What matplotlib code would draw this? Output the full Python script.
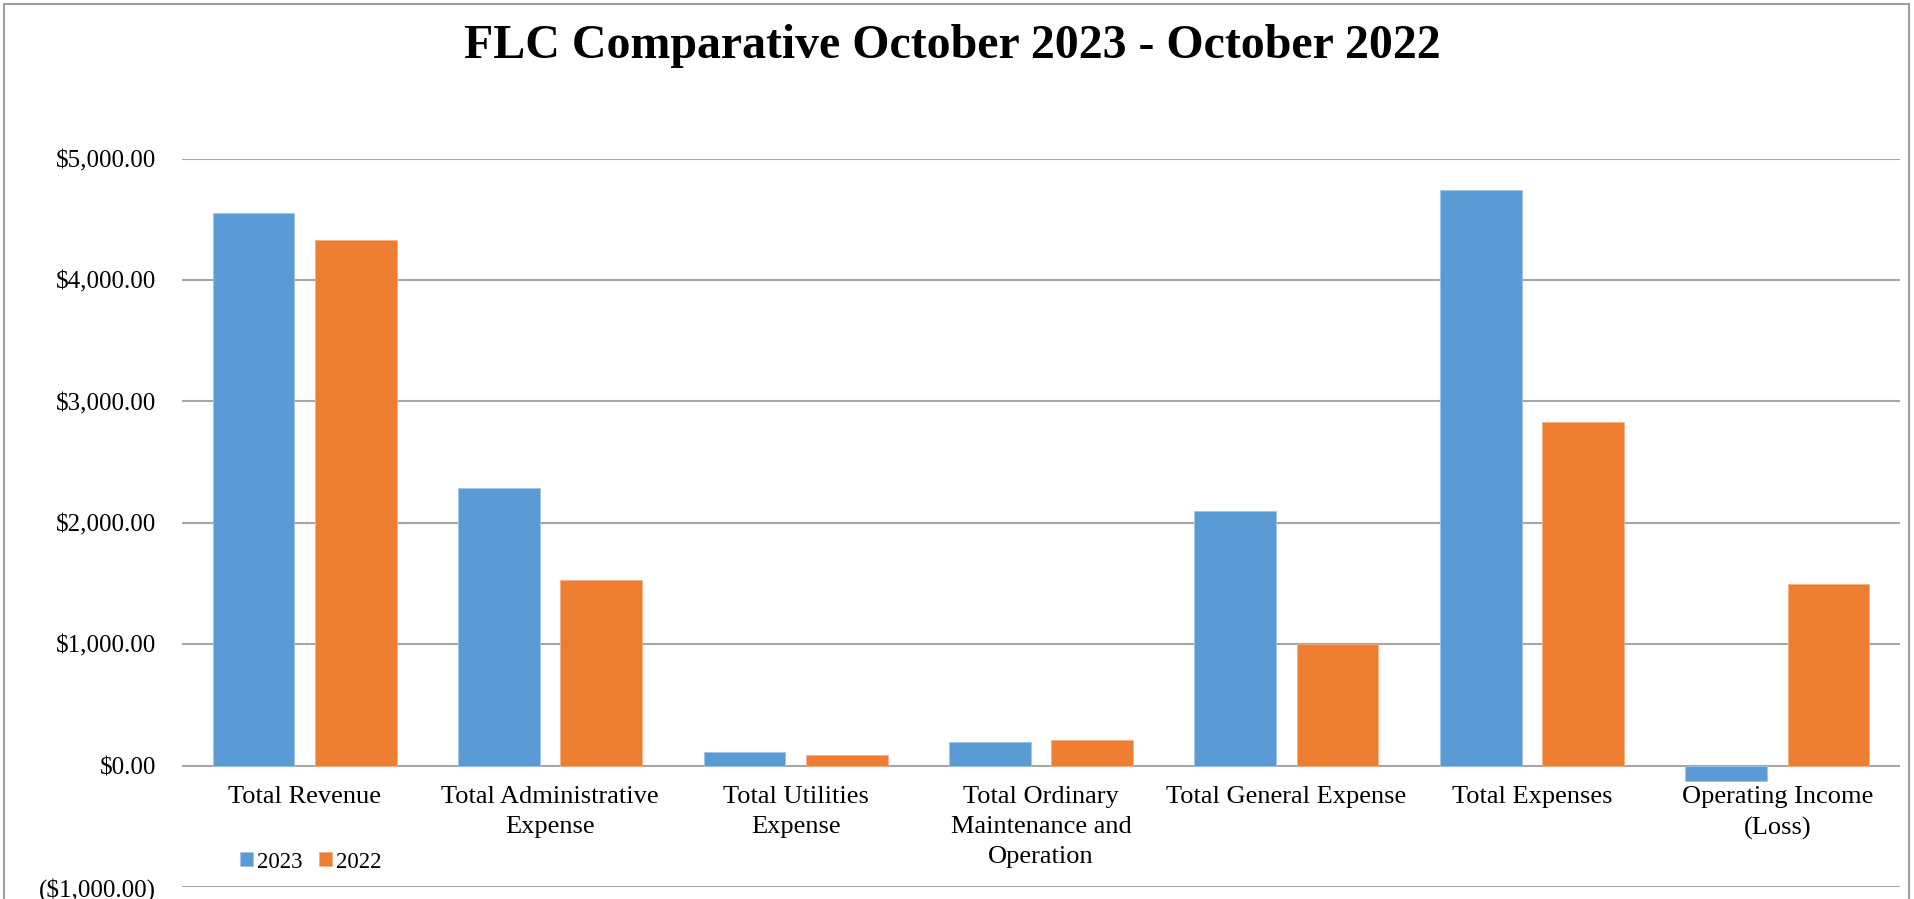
import matplotlib
matplotlib.use("Agg")
import matplotlib.pyplot as plt
import matplotlib.patches as mpatches
from matplotlib.ticker import FuncFormatter
import numpy as np

plt.rcParams['font.family'] = ['Liberation Serif', 'DejaVu Serif']

categories = [
    "Total Revenue",
    "Total Administrative\nExpense",
    "Total Utilities\nExpense",
    "Total Ordinary\nMaintenance and\nOperation",
    "Total General Expense",
    "Total Expenses",
    "Operating Income\n(Loss)",
]
values_2023 = [4553, 2289, 110, 192, 2094, 4742, -124]
values_2022 = [4328, 1528, 88, 208, 1000, 2830, 1495]
series_labels = ["2023", "2022"]
yticks = [-1000, 0, 1000, 2000, 3000, 4000, 5000]

BLUE = "#5B9BD5"
ORANGE = "#ED7D31"
GRID = "#A6A6A6"

W, H = 1914, 899
fig = plt.figure(figsize=(W / 100, H / 100), dpi=100)

# axes placed in pixel terms
left, right = 182, 1900
top, bottom = 158.7, 886.9
ax = fig.add_axes([left / W, (H - bottom) / H, (right - left) / W, (bottom - top) / H])

x = np.arange(len(categories))
bw = 0.333
off = 0.2085
ax.bar(x - off, values_2023, bw, color=BLUE, edgecolor="#9DC3E6", linewidth=0.6,
       label=series_labels[0], zorder=3)
ax.bar(x + off, values_2022, bw, color=ORANGE, edgecolor="#F4B183", linewidth=0.6,
       label=series_labels[1], zorder=3)

ax.set_xlim(-0.5, len(categories) - 0.5)
ax.set_ylim(-1000, 5000)
ax.set_yticks(yticks)


def money(v, pos):
    if v < 0:
        return "(${:,.2f})".format(-v)
    return "${:,.2f}".format(v)


ax.yaxis.set_major_formatter(FuncFormatter(money))
ax.tick_params(axis="y", length=0, pad=18.5, labelsize=18)
ax.set_xticks([])
ax.grid(axis="y", color=GRID, linewidth=1.5, zorder=0)
ax.set_axisbelow(True)
for s in ax.spines.values():
    s.set_visible(False)

# category labels sit under the zero line
for i, lab in enumerate(categories):
    ax.annotate(lab, xy=(i, 0), xytext=(0, -15), textcoords="offset points",
                ha="center", va="top", fontsize=19, linespacing=1.47,
                multialignment="center")

leg = ax.legend(loc="center", bbox_to_anchor=(311 / W, (H - 862) / H),
                bbox_transform=fig.transFigure, ncol=2, frameon=False,
                fontsize=16.5, handlelength=0.55, handleheight=0.55,
                handletextpad=0.2, columnspacing=0.7)

fig.text(952 / W, 1 - 46 / H, "FLC Comparative October 2023 - October 2022",
         ha="center", va="center", fontsize=34.5, fontweight="bold")

# outer chart border
fig.patches.append(mpatches.Rectangle((4 / W, -0.05), (1909 - 4) / W, 1.05 - 4 / H,
                                      transform=fig.transFigure, fill=False,
                                      edgecolor="#A0A0A0", linewidth=1.5))

fig.savefig("out.png", dpi=100)
